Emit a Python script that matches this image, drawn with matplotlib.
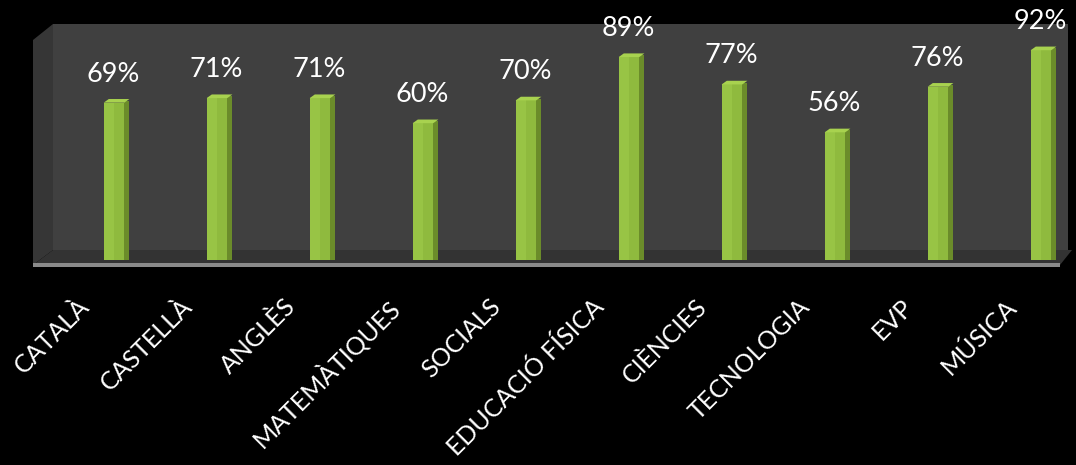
import matplotlib
matplotlib.use("Agg")
import matplotlib.pyplot as plt
from matplotlib.patches import Polygon
from matplotlib.transforms import ScaledTranslation

categories = ["CATALÀ", "CASTELLÀ", "ANGLÈS", "MATEMÀTIQUES", "SOCIALS",
              "EDUCACIÓ FÍSICA", "CIÈNCIES", "TECNOLOGIA", "EVP", "MÚSICA"]
values = [69, 71, 71, 60, 70, 89, 77, 56, 76, 92]
value_labels = ["69%", "71%", "71%", "60%", "70%", "89%", "77%", "56%", "76%", "92%"]

W, H = 1076, 465
fig = plt.figure(figsize=(W / 100, H / 100), dpi=100, facecolor="black")

ax = fig.add_axes([33 / W, 1 - 265 / H, (1060 - 33) / W, (265 - 24) / H])
ax.set_facecolor("none")
ax.set_xlim(-0.816, 9.155)
ax.set_ylim(-2.2, 103.5)
for s in ax.spines.values():
    s.set_visible(False)
ax.tick_params(left=False, bottom=False, labelleft=False)

def fpoly(pts, color, z=0):
    p = Polygon([(x / W, 1 - y / H) for x, y in pts], closed=True,
                transform=fig.transFigure, facecolor=color, edgecolor="none", zorder=z)
    fig.add_artist(p)

fpoly([(53, 24), (1068, 24), (1068, 250), (53, 250)], "#404040")          # back wall
fpoly([(33, 40), (53, 24), (53, 250), (33, 265)], "#363636")              # side wall
fpoly([(33, 265), (53, 250), (1072, 250), (1060, 265)], "#333333")        # floor
fpoly([(33, 263), (1060, 263), (1060, 267), (33, 267)], "#8a8a8a")        # floor edge

x = list(range(len(categories)))
front_w = 0.2
side_w = 0.05
off = -0.03
ax.bar([i + off for i in x], values, width=front_w, color="#8fba3e",
       edgecolor="none", zorder=3)
ax.bar([i + off - front_w / 4 for i in x], values, width=front_w / 2,
       color="#98c445", edgecolor="none", zorder=3)
ax.bar([i + off + front_w / 2 + side_w / 2 for i in x], [v + 0.8 for v in values],
       width=side_w, color="#6b8c2a", edgecolor="none", zorder=3)
for i, v in zip(x, values):
    cap = Polygon([(i + off - front_w / 2, v), (i + off + front_w / 2, v),
                   (i + off + front_w / 2 + side_w, v + 1.6),
                   (i + off - front_w / 2 + side_w, v + 1.6)],
                  closed=True, facecolor="#a8d24f", edgecolor="none", zorder=4)
    ax.add_patch(cap)

for i, v, lab in zip(x, values, value_labels):
    ax.annotate(lab, (i, v), xytext=(-4, 21), textcoords="offset pixels",
                ha="center", va="baseline", color="white", fontsize=19.5,
                family=["Lato", "DejaVu Sans"], zorder=5)

ax.set_xticks(x)
ax.set_xticklabels(categories, rotation=45, ha="right", rotation_mode="anchor",
                   color="white", fontsize=18, family=["Lato", "DejaVu Sans"])
ax.tick_params(axis="x", pad=22)
shift = ScaledTranslation(-40 / 100, 6 / 100, fig.dpi_scale_trans)
for lbl in ax.get_xticklabels():
    lbl.set_transform(lbl.get_transform() + shift)

fig.savefig("out.png", dpi=100, facecolor="black")
